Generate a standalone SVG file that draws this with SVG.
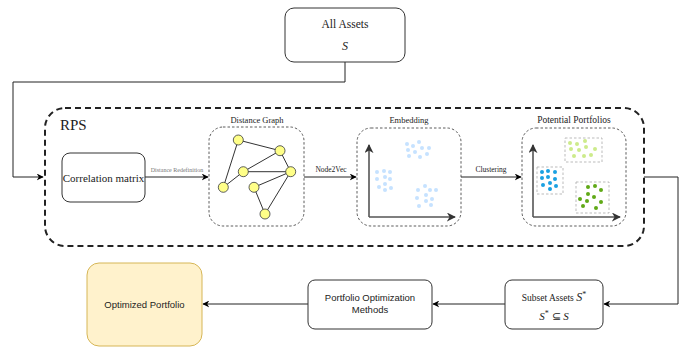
<svg xmlns="http://www.w3.org/2000/svg" width="683" height="347" viewBox="0 0 683 347">
<defs>
<marker id="ah" viewBox="0 0 10 10" refX="9" refY="5" markerWidth="7" markerHeight="7" markerUnits="userSpaceOnUse" orient="auto">
<path d="M0,0 L10,5 L0,10 L3,5 Z" fill="#000"/>
</marker>
<marker id="axh" viewBox="0 0 10 10" refX="9" refY="5" markerWidth="9" markerHeight="9" markerUnits="userSpaceOnUse" orient="auto">
<path d="M0,0 L10,5 L0,10 L3,5 Z" fill="#333"/>
</marker>
<style>
.box{fill:#fff;stroke:#333;stroke-width:1}
.inner{fill:#fff;stroke:#333;stroke-width:0.8;stroke-dasharray:2.5 2}
.serif{font-family:'Liberation Serif','Times New Roman',Times,serif;fill:#222}
.sans{font-family:'Liberation Sans',Arial,sans-serif;fill:#222}
.conn{fill:none;stroke:#222;stroke-width:1}
.axis{fill:none;stroke:#555;stroke-width:1.6}
.gn{fill:#ffff88;stroke:#36393d;stroke-width:0.8}
.ge{stroke:#333;stroke-width:1}
.e{fill:#b8dcff;opacity:0.8}
.lg{fill:#cdeb8b}
.bl{fill:#1ba1e2}
.dg{fill:#60a917}
.cb{fill:none;stroke:#aaa;stroke-width:0.8;stroke-dasharray:2.5 2}
</style>
</defs>

<g id="connectors">
<path class="conn" d="M345,62 V82 H13 V177 H43" marker-end="url(#ah)"/>
<path class="conn" d="M145,177 H208" marker-end="url(#ah)"/>
<path class="conn" d="M304,177 H356" marker-end="url(#ah)"/>
<path class="conn" d="M461,177 H521" marker-end="url(#ah)"/>
<path class="conn" d="M644,177 H678 V304 H604" marker-end="url(#ah)"/>
<path class="conn" d="M505,304 H433" marker-end="url(#ah)"/>
<path class="conn" d="M308,304 H203" marker-end="url(#ah)"/>
<text font-family="'Liberation Serif','Times New Roman',serif" x="177" y="172" font-size="6" text-anchor="middle" fill="#777">Distance Redefinition</text>
<text font-family="'Liberation Serif','Times New Roman',serif" fill="#222" x="331" y="172" font-size="7.5" text-anchor="middle">Node2Vec</text>
<text font-family="'Liberation Serif','Times New Roman',serif" fill="#222" x="491" y="172" font-size="7.5" text-anchor="middle">Clustering</text>
</g>

<g id="all-assets">
<rect class="box" x="285" y="8" width="120" height="54" rx="9"/>
<text font-family="'Liberation Serif','Times New Roman',serif" fill="#222" x="345" y="28" font-size="11.5" text-anchor="middle">All Assets</text>
<text font-family="'Liberation Serif','Times New Roman',serif" fill="#222" x="345" y="50" font-size="12" font-style="italic" text-anchor="middle">S</text>
</g>

<g id="rps">
<rect x="45" y="108" width="599" height="138" rx="20" fill="none" stroke="#222" stroke-width="2" stroke-dasharray="6 4"/>
<text font-family="'Liberation Serif','Times New Roman',serif" fill="#222" x="60" y="130" font-size="15">RPS</text>
</g>

<g id="correlation-matrix">
<rect class="box" x="62" y="153" width="83" height="49" rx="8"/>
<text font-family="'Liberation Serif','Times New Roman',serif" fill="#222" x="103.5" y="181.5" font-size="11" text-anchor="middle">Correlation matrix</text>
</g>

<g id="distance-graph">
<text font-family="'Liberation Serif','Times New Roman',serif" fill="#222" x="257" y="123" font-size="8.5" text-anchor="middle">Distance Graph</text>
<rect class="inner" x="209" y="127" width="95" height="99" rx="14"/>
<line class="ge" x1="238.3" y1="140" x2="280" y2="150.7"/>
<line class="ge" x1="238.3" y1="140" x2="223.3" y2="187.3"/>
<line class="ge" x1="243.3" y1="171.7" x2="280" y2="150.7"/>
<line class="ge" x1="243.3" y1="171.7" x2="290.7" y2="171.7"/>
<line class="ge" x1="243.3" y1="171.7" x2="223.3" y2="187.3"/>
<line class="ge" x1="280" y1="150.7" x2="290.7" y2="171.7"/>
<line class="ge" x1="254" y1="187.3" x2="290.7" y2="171.7"/>
<line class="ge" x1="254" y1="187.3" x2="265" y2="214"/>
<line class="ge" x1="265" y1="214" x2="290.7" y2="171.7"/>
<circle class="gn" cx="238.3" cy="140" r="5"/>
<circle class="gn" cx="280" cy="150.7" r="5"/>
<circle class="gn" cx="243.3" cy="171.7" r="5"/>
<circle class="gn" cx="290.7" cy="171.7" r="5"/>
<circle class="gn" cx="223.3" cy="187.3" r="5"/>
<circle class="gn" cx="254" cy="187.3" r="5"/>
<circle class="gn" cx="265" cy="214" r="5"/>
</g>

<g id="embedding">
<text font-family="'Liberation Serif','Times New Roman',serif" fill="#222" x="409" y="123" font-size="8.5" text-anchor="middle">Embedding</text>
<rect class="inner" x="357" y="128" width="104" height="98" rx="14"/>
<path class="axis" d="M369,217 V145" marker-end="url(#axh)"/>
<path class="axis" d="M369,217 H455" marker-end="url(#axh)"/>
<g class="e">
<circle cx="407" cy="144" r="2"/><circle cx="413" cy="146" r="2"/><circle cx="419" cy="142" r="2"/>
<circle cx="408" cy="150" r="2"/><circle cx="415" cy="152" r="2"/><circle cx="422" cy="148" r="2"/><circle cx="429" cy="148" r="2"/>
<circle cx="409" cy="156" r="2"/><circle cx="420" cy="157" r="2"/><circle cx="427" cy="154" r="2"/>
<circle cx="377" cy="172" r="2"/><circle cx="384" cy="171" r="2"/><circle cx="390" cy="172" r="2"/>
<circle cx="377" cy="179" r="2"/><circle cx="385" cy="177" r="2"/><circle cx="390" cy="179" r="2"/>
<circle cx="379" cy="187" r="2"/><circle cx="385" cy="184" r="2"/><circle cx="385" cy="190" r="2"/><circle cx="391" cy="188" r="2"/>
<circle cx="425" cy="186" r="2"/><circle cx="418" cy="190" r="2"/><circle cx="430" cy="190" r="2"/><circle cx="436" cy="190" r="2"/>
<circle cx="417" cy="198" r="2"/><circle cx="426" cy="195" r="2"/><circle cx="432" cy="199" r="2"/><circle cx="426" cy="201" r="2"/>
<circle cx="419" cy="206" r="2"/><circle cx="431" cy="205" r="2"/>
</g>
</g>

<g id="potential-portfolios">
<text font-family="'Liberation Serif','Times New Roman',serif" fill="#222" x="574" y="123" font-size="9.5" text-anchor="middle">Potential Portfolios</text>
<rect class="inner" x="522" y="128" width="104" height="98" rx="14"/>
<path class="axis" d="M533,217 V145" marker-end="url(#axh)"/>
<path class="axis" d="M533,217 H620" marker-end="url(#axh)"/>
<rect class="cb" x="565" y="138" width="37" height="24"/>
<rect class="cb" x="537" y="167" width="26" height="27"/>
<rect class="cb" x="576" y="182" width="33" height="31"/>
<g class="lg">
<circle cx="570" cy="143" r="2"/><circle cx="577" cy="144" r="2"/><circle cx="585" cy="141" r="2"/>
<circle cx="571" cy="149" r="2"/><circle cx="579" cy="150" r="2"/><circle cx="586" cy="147" r="2"/><circle cx="595" cy="149" r="2"/>
<circle cx="574" cy="156" r="2"/><circle cx="584" cy="156" r="2"/><circle cx="591" cy="155" r="2"/>
</g>
<g class="bl">
<circle cx="542" cy="172" r="2"/><circle cx="548" cy="171" r="2"/><circle cx="555" cy="172" r="2"/>
<circle cx="542" cy="178" r="2"/><circle cx="548" cy="177" r="2"/><circle cx="555" cy="179" r="2"/>
<circle cx="543" cy="185" r="2"/><circle cx="550" cy="183" r="2"/><circle cx="556" cy="186" r="2"/><circle cx="550" cy="189" r="2"/>
</g>
<g class="dg">
<circle cx="588" cy="187" r="2"/><circle cx="595" cy="186" r="2"/><circle cx="601" cy="190" r="2"/>
<circle cx="580" cy="199" r="2"/><circle cx="588" cy="194" r="2"/><circle cx="594" cy="197" r="2"/><circle cx="601" cy="202" r="2"/>
<circle cx="587" cy="201" r="2"/><circle cx="583" cy="206" r="2"/><circle cx="596" cy="208" r="2"/>
</g>
</g>

<g id="subset-assets">
<rect class="box" x="505" y="280" width="98" height="49" rx="7"/>
<text font-family="'Liberation Serif','Times New Roman',serif" fill="#222" x="554" y="301" font-size="9.5" text-anchor="middle">Subset Assets <tspan font-size="12" font-style="italic">S</tspan><tspan font-size="8" dy="-4">*</tspan></text>
<text font-family="'Liberation Serif','Times New Roman',serif" fill="#222" x="554" y="320" font-size="11" text-anchor="middle"><tspan font-style="italic">S</tspan><tspan font-size="8" dy="-4">*</tspan><tspan dy="4"> ⊆ </tspan><tspan font-style="italic">S</tspan></text>
</g>

<g id="portfolio-optimization">
<rect class="box" x="308" y="280" width="124" height="49" rx="7"/>
<text class="sans" x="370" y="301" font-size="9.5" text-anchor="middle">Portfolio Optimization</text>
<text class="sans" x="370" y="313" font-size="9.5" text-anchor="middle">Methods</text>
</g>

<g id="optimized-portfolio">
<rect x="87" y="263" width="115" height="83" rx="12" fill="#fff2cc" stroke="#d6b656" stroke-width="1"/>
<text class="sans" x="144.5" y="308" font-size="9.5" text-anchor="middle">Optimized Portfolio</text>
</g>
</svg>
